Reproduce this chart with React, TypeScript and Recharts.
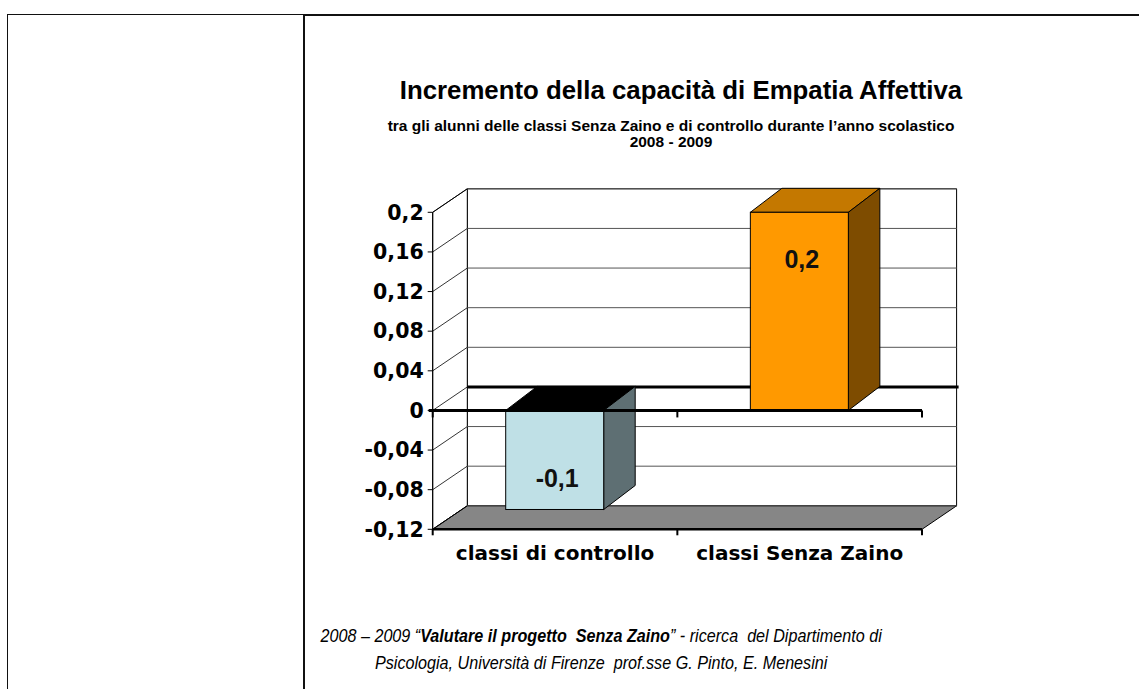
import React from 'react';
import { BarChart, Bar, XAxis, YAxis, ReferenceArea, ReferenceLine } from 'recharts';

const categories = ['classi di controllo', 'classi Senza Zaino'];
const values = [-0.1, 0.2];
const valueLabels = ['-0,1', '0,2'];
const yTicks = [-0.12, -0.08, -0.04, 0, 0.04, 0.08, 0.12, 0.16, 0.2];
const yTickLabels = ['-0,12', '-0,08', '-0,04', '0', '0,04', '0,08', '0,12', '0,16', '0,2'];

const frontColors = ['#BFE0E6', '#FF9900'];
const topColors = ['#000000', '#C47800'];
const sideColors = ['#5E6F73', '#7E4C00'];

const data = categories.map((name, i) => ({ name, value: values[i] }));

const WALL_DX = 34.6;
const WALL_DY = -23.5;
const BAR_DX = 31.5;
const BAR_DY = -24;

const fmtY = (v: number) => {
  let best = 0;
  yTicks.forEach((t, i) => {
    if (Math.abs(t - v) < Math.abs(yTicks[best] - v)) best = i;
  });
  return yTickLabels[best];
};

const WallShape = (p: any) => {
  const x = p.x, y = p.y, w = p.width, h = p.height;
  const b = y + h;
  return (
    <g>
      <polygon
        points={`${x + WALL_DX},${y + WALL_DY} ${x + w + WALL_DX},${y + WALL_DY} ${x + w + WALL_DX},${b + WALL_DY} ${x + WALL_DX},${b + WALL_DY}`}
        fill="#ffffff" stroke="#000" strokeWidth={1}
      />
      <polygon
        points={`${x},${y} ${x + WALL_DX},${y + WALL_DY} ${x + WALL_DX},${b + WALL_DY} ${x},${b}`}
        fill="#ffffff" stroke="#000" strokeWidth={1}
      />
      <polygon
        points={`${x},${b} ${x + WALL_DX},${b + WALL_DY} ${x + w + WALL_DX},${b + WALL_DY} ${x + w},${b}`}
        fill="#868686" stroke="#000" strokeWidth={1}
      />
      {[0, 0.5, 1].map((f) => (
        <line key={f} x1={x + w * f} y1={b} x2={x + w * f} y2={b + 6} stroke="#000" strokeWidth={2} />
      ))}
    </g>
  );
};

const makeGridShape = (tick: number) => (p: any) => {
  const { x1, y1, x2, y2 } = p;
  const zero = tick === 0;
  return (
    <g>
      <line x1={x1} y1={y1} x2={x1 + WALL_DX} y2={y1 + WALL_DY} stroke="#000" strokeWidth={0.8} />
      <line
        x1={x1 + WALL_DX} y1={y1 + WALL_DY} x2={x2 + WALL_DX + (zero ? 2 : 0)} y2={y2 + WALL_DY}
        stroke={zero ? '#000' : '#555'} strokeWidth={zero ? 3 : 1}
      />
    </g>
  );
};

const FrontZeroShape = (p: any) => {
  const { x1, y1, x2 } = p;
  const mid = (x1 + x2) / 2;
  return (
    <g>
      <line x1={x1 - 4} y1={y1} x2={x2} y2={y1} stroke="#000" strokeWidth={3} />
      {[x1, mid, x2].map((xx, i) => (
        <line key={i} x1={xx} y1={y1} x2={xx} y2={y1 + 7} stroke="#000" strokeWidth={2} />
      ))}
    </g>
  );
};

const Bar3D = (p: any) => {
  const idx = typeof p.index === 'number' ? p.index : categories.indexOf(p.name ?? p.payload?.name);
  const h0 = p.height;
  const top = Math.min(p.y, p.y + h0);
  const bottom = Math.max(p.y, p.y + h0);
  const left = p.x;
  const right = p.x + p.width;
  const v = values[idx];
  const labelY = v >= 0 ? top + 56 : bottom - 22;
  return (
    <g>
      <polygon
        points={`${left},${top} ${left + BAR_DX},${top + BAR_DY} ${right + BAR_DX},${top + BAR_DY} ${right},${top}`}
        fill={topColors[idx]} stroke="#000" strokeWidth={1}
      />
      <polygon
        points={`${right},${top} ${right + BAR_DX},${top + BAR_DY} ${right + BAR_DX},${bottom + BAR_DY} ${right},${bottom}`}
        fill={sideColors[idx]} stroke="#000" strokeWidth={1}
      />
      <rect x={left} y={top} width={right - left} height={bottom - top} fill={frontColors[idx]} stroke="#000" strokeWidth={1} />
      <text
        x={(left + right) / 2 + 2.5} y={labelY} textAnchor="middle"
        fontFamily="'Liberation Sans', Arial, sans-serif" fontWeight="bold" fontSize={25} fill="#111"
      >
        {valueLabels[idx]}
      </text>
    </g>
  );
};

const border = (style: React.CSSProperties) => (
  <div style={{ position: 'absolute', background: '#111', ...style }} />
);

export default function App() {
  return (
    <div style={{ position: 'absolute', left: 0, top: 0, width: 1139, height: 689, background: '#fff', overflow: 'hidden' }}>
      {border({ left: 7, top: 14, width: 297, height: 1 })}
      {border({ left: 303, top: 14, width: 836, height: 2 })}
      {border({ left: 7, top: 14, width: 1, height: 675 })}
      {border({ left: 303, top: 14, width: 2, height: 675 })}

      <div style={{ position: 'absolute', left: 0, top: 0 }}>
        <BarChart
          width={1139}
          height={689}
          data={data}
          margin={{ top: 212.3, right: 217, left: 372.7, bottom: 119.7 }}
        >
          <ReferenceArea y1={-0.12} y2={0.2} shape={WallShape} ifOverflow="visible" zIndex={50} />
          {yTicks.map((t) => (
            <ReferenceLine key={t} y={t} shape={makeGridShape(t)} ifOverflow="visible" zIndex={60} />
          ))}
          <XAxis
            dataKey="name"
            axisLine={{ stroke: '#000', strokeWidth: 2.5 }}
            tickLine={false}
            tickSize={0}
            tickMargin={16}
            height={40}
            interval={0}
            tick={{ fill: '#000', fontSize: 20, fontWeight: 'bold', fontFamily: "'DejaVu Sans', sans-serif" }}
          />
          <YAxis
            type="number"
            domain={[-0.12, 0.2]}
            ticks={yTicks}
            interval={0}
            width={60}
            tickFormatter={fmtY}
            axisLine={{ stroke: '#000', strokeWidth: 1 }}
            tickLine={{ stroke: '#000' }}
            tickSize={5}
            tickMargin={4}
            tick={{ fill: '#000', fontSize: 20.5, fontWeight: 'bold', fontFamily: "'DejaVu Sans', sans-serif" }}
          />
          <Bar dataKey="value" barSize={98} isAnimationActive={false} shape={Bar3D} />
          <ReferenceLine y={0} shape={FrontZeroShape} ifOverflow="visible" zIndex={450} />
        </BarChart>
      </div>

      <div style={{ position: 'absolute', left: 381, top: 75, width: 600, textAlign: 'center', fontFamily: "'Liberation Sans', Arial, sans-serif", fontWeight: 'bold', fontSize: 25.8, lineHeight: '30px', color: '#000' }}>
        Incremento della capacità di Empatia Affettiva
      </div>
      <div style={{ position: 'absolute', left: 371, top: 118, width: 600, textAlign: 'center', fontFamily: "'Liberation Sans', Arial, sans-serif", fontWeight: 'bold', fontSize: 15.5, lineHeight: '16px', color: '#000' }}>
        <div>tra gli alunni delle classi Senza Zaino e di controllo durante l’anno scolastico</div>
        <div>2008 - 2009</div>
      </div>

      <div style={{ position: 'absolute', left: 251, top: 622, width: 700, textAlign: 'center', fontFamily: "'Liberation Sans', Arial, sans-serif", fontStyle: 'italic', fontSize: 19, lineHeight: '27px', color: '#000', whiteSpace: 'pre' }}>
        <div style={{ display: 'inline-block', transform: 'scaleX(0.85)' }}>
          <div>2008 – 2009 “<b>Valutare il progetto  Senza Zaino</b>” - ricerca  del Dipartimento di</div>
          <div>Psicologia, Università di Firenze  prof.sse G. Pinto, E. Menesini</div>
        </div>
      </div>
    </div>
  );
}
